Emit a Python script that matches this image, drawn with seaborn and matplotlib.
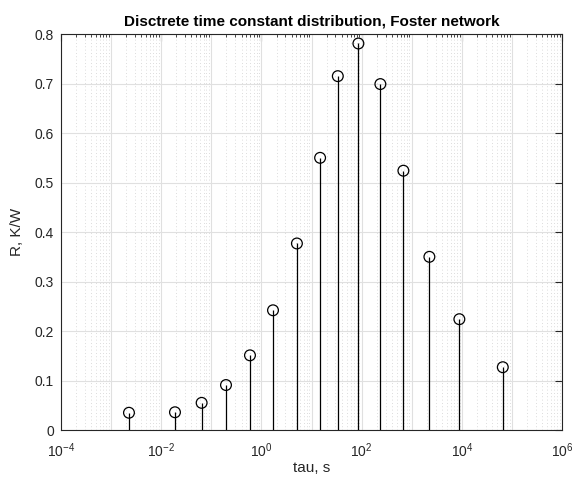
import numpy as np
import pandas as pd
import matplotlib
matplotlib.use("Agg")
import matplotlib.pyplot as plt
import seaborn as sns
from matplotlib.ticker import LogLocator, NullFormatter

tau = [2.27e-3, 1.88e-2, 6.4e-2, 1.96e-1, 5.9e-1, 1.7, 5.1, 14.8, 33.4, 86.0,
       236.0, 680.0, 2245.0, 8900.0, 65500.0]
R = [0.035, 0.036, 0.055, 0.091, 0.151, 0.242, 0.377, 0.550, 0.715, 0.781,
     0.699, 0.524, 0.350, 0.224, 0.127]

title = "Disctrete time constant distribution, Foster network"
xlabel = "tau, s"
ylabel = "R, K/W"
yticks = [0, 0.1, 0.2, 0.3, 0.4, 0.5, 0.6, 0.7, 0.8]
yticklabels = ["0", "0.1", "0.2", "0.3", "0.4", "0.5", "0.6", "0.7", "0.8"]

df = pd.DataFrame({"tau": tau, "R": R})

sns.set_style("white")
plt.rcParams["font.family"] = ["Liberation Sans", "DejaVu Sans"]
plt.rcParams["mathtext.fontset"] = "custom"
plt.rcParams["mathtext.rm"] = "Liberation Sans"
plt.rcParams["mathtext.it"] = "Liberation Sans:italic"

fig = plt.figure(figsize=(5.73, 4.80), dpi=100)
ax = fig.add_axes([0.1065, 0.104, 0.8745, 0.825])

ax.set_xscale("log")
ax.set_xlim(1e-4, 1e6)
ax.set_ylim(0, 0.8)

ax.vlines(df["tau"], 0, df["R"], colors="black", linewidth=0.9, zorder=3)
sns.scatterplot(data=df, x="tau", y="R", ax=ax, marker="o", s=60,
                facecolors="none", edgecolor="black", linewidth=0.9, zorder=4)

ax.set_xticks([1e-4, 1e-2, 1, 1e2, 1e4, 1e6])
ax.xaxis.set_minor_locator(LogLocator(base=10, subs=np.arange(2, 10), numticks=30))
ax.xaxis.set_minor_formatter(NullFormatter())
ax.set_yticks(yticks)
ax.set_yticklabels(yticklabels)

ax.grid(False)
for d in range(-4, 7):
    ax.axvline(10.0 ** d, color="#e0e0e0", linewidth=0.8, zorder=1)
ax.grid(True, which="major", axis="y", color="#e0e0e0", linewidth=0.8, zorder=1)
ax.grid(True, which="minor", axis="x", color="#d0d0d0", linestyle=(0, (1, 3)),
        linewidth=0.6, zorder=1)
ax.set_axisbelow(True)

ax.tick_params(axis="both", which="both", direction="in", top=True, right=True,
               colors="#262626", labelcolor="#262626", labelsize=10)
ax.tick_params(axis="both", which="major", length=5, width=0.8)
ax.tick_params(axis="x", which="minor", length=2.5, width=0.6)
ax.tick_params(axis="x", which="major", pad=8)
ax.tick_params(axis="y", which="major", pad=5)
for s in ax.spines.values():
    s.set_color("#262626")
    s.set_linewidth(0.8)

ax.set_title(title, fontsize=11, fontweight="bold", color="black", pad=6)
ax.set_xlabel(xlabel, fontsize=11, color="#262626", labelpad=1)
ax.set_ylabel(ylabel, fontsize=11, color="#262626", labelpad=8)

fig.savefig("out.png", dpi=100)
